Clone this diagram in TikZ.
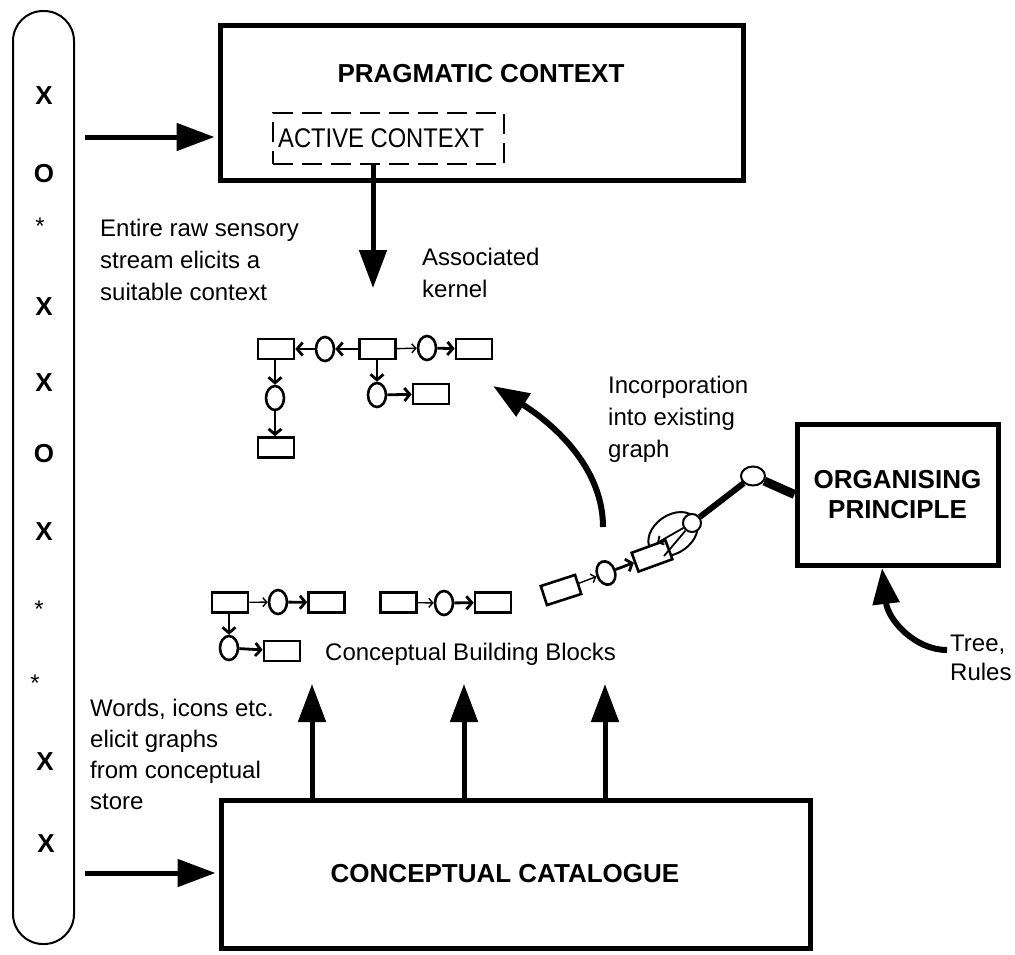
\documentclass[tikz,border=0pt]{standalone}
\usepackage{fontspec}
\setmainfont{Liberation Sans}
\usetikzlibrary{arrows.meta,shapes.geometric,calc}
\begin{document}
\begin{tikzpicture}[x=1pt,y=-1pt,
  bigbox/.style={draw, line width=5pt, inner sep=0pt},
  bigarrow/.style={line width=5pt, -{Triangle[length=38pt,width=27pt]}},
  curvearrow/.style={line width=6pt, -{Triangle[length=36pt,width=26pt]}},
  cbox/.style={draw, line width=2.6pt, fill=white, minimum width=36pt, minimum height=20pt, inner sep=0pt},
  cell/.style={draw, ellipse, line width=2.6pt, fill=white, minimum width=18pt, minimum height=24pt, inner sep=0pt},
  link/.style={line width=2.8pt, -{Straight Barb[length=5.5pt,width=13pt]}},
  thinlink/.style={line width=1.4pt, -{Straight Barb[length=4pt,width=9pt]}},
  txt/.style={font=\fontsize{24}{32}\selectfont, inner sep=0pt, align=left},
  title/.style={font=\fontsize{26}{30}\selectfont\bfseries, inner sep=0pt, align=center},
  sym/.style={font=\fontsize{26}{26}\selectfont\bfseries, inner sep=0pt, anchor=base},
  star/.style={font=\fontsize{24}{24}\selectfont, inner sep=0pt, anchor=base},
]
\useasboundingbox (0,0) rectangle (1015,954);

% ---- incoming symbol stream ----
\node[draw, line width=2pt, rounded corners=30pt, minimum width=61pt, minimum height=933pt, inner sep=0pt] (stream) at (43.5,477.5) {};
\node[sym]  (s1)  at (44,104.5) {X};
\node[sym]  (s2)  at (44,182)   {O};
\node[star] (s3)  at (40,234)   {*};
\node[sym]  (s4)  at (44,315)   {X};
\node[sym]  (s5)  at (44,391)   {X};
\node[sym]  (s6)  at (44,462)   {O};
\node[sym]  (s7)  at (44,540)   {X};
\node[star] (s8)  at (39,617)   {*};
\node[star] (s9)  at (35,691)   {*};
\node[sym]  (s10) at (45,770)   {X};
\node[sym]  (s11) at (46,852)   {X};

% ---- pragmatic context ----
\node[bigbox, minimum width=523pt, minimum height=155pt] (prag) at (481.5,102.5) {};
\node[title] (pragtitle) at (481,74) {PRAGMATIC CONTEXT};
\node[draw, line width=1.8pt, dash pattern=on 20pt off 9pt, minimum width=231pt, minimum height=51pt, inner sep=0pt] (active) at (388.5,138.5) {};
\node[inner sep=0pt, anchor=base west, font=\fontsize{27}{27}\selectfont] (activetext) at (278,147.5) {\scalebox{0.88}[1]{ACTIVE CONTEXT}};

\coordinate (in1) at (85,137);
\draw[bigarrow] (in1) -- ($(in1 -| prag.west)+(-3,0)$);

\coordinate (kernelin) at (373,288);
\draw[bigarrow] (active.south -| kernelin) -- (kernelin);

\node[txt, anchor=north west] (entire) at (100,218.5) {Entire raw sensory\\stream elicits a\\suitable context};
\node[txt, anchor=north west] (assoc) at (422,247.5) {Associated\\kernel};

% ---- associated kernel graph ----
\node[cbox] (k1) at (276,349) {};
\node[cell] (k2) at (325,349) {};
\node[cbox] (k3) at (377.5,349) {};
\node[cell] (k4) at (427,348) {};
\node[cbox] (k5) at (474,349) {};
\node[cell] (k6) at (275,398) {};
\node[cbox] (k7) at (276,447.5) {};
\node[cell] (k8) at (377,395) {};
\node[cbox] (k9) at (431,394) {};
\draw[link] (k3) -- (k2);
\draw[link] (k2) -- (k1);
\draw[thinlink] (k3) -- (k4);
\draw[link] (k4) -- (k5);
\draw[link] (k1.south -| k6) -- (k6);
\draw[link] (k6) -- (k7.north -| k6);
\draw[link] (k3.south -| k8) -- (k8);
\draw[link] (k8) -- (k9);

% ---- conceptual building blocks ----
\node[cbox] (a1) at (230,602.5) {};
\node[cell] (a2) at (278,602) {};
\node[cbox] (a3) at (326.5,602.5) {};
\node[cell] (a4) at (229,648) {};
\node[cbox] (a5) at (282,651) {};
\draw[thinlink] (a1) -- (a2);
\draw[link] (a2) -- (a3);
\draw[link] (a1.south -| a4) -- (a4);
\draw[link] (a4) -- (a5);

\node[cbox] (b1) at (398.5,602.5) {};
\node[cell] (b2) at (444,603) {};
\node[cbox] (b3) at (493,602.5) {};
\draw[thinlink] (b1) -- (b2);
\draw[link] (b2) -- (b3);

\node[txt, anchor=base west] (cbb) at (325,660) {Conceptual Building Blocks};

% ---- block being picked up by the organising principle ----
\node[draw, ellipse, line width=2pt, rotate=35, minimum width=54pt, minimum height=38pt, inner sep=0pt] (grip) at (673,534) {};
\node[cbox, rotate=18] (c1) at (561,590) {};
\node[cell, rotate=20] (c2) at (606,573) {};
\node[cbox, rotate=20] (c3) at (652,556) {};
\draw[thinlink] (c1) -- (c2);
\draw[link] (c2) -- (c3);
\node[draw, circle, fill=white, line width=2pt, minimum size=18pt, inner sep=0pt] (ring) at (692,523) {};
\node[draw, ellipse, fill=white, line width=2pt, minimum width=24pt, minimum height=19pt, inner sep=0pt] (joint) at (753,476) {};
\coordinate (g1) at (657,543);
\coordinate (g2) at (664,556);
\draw[line width=1.8pt, -{Straight Barb[length=4.5pt,width=10pt]}] (ring) -- (g1);
\draw[line width=1.8pt] (ring) -- (g2);

% ---- organising principle ----
\node[bigbox, title, minimum width=201pt, minimum height=141pt] (org) at (897.5,494.5) {ORGANISING\\PRINCIPLE};
\draw[line width=6pt] (ring) -- (joint);
\draw[line width=9pt] (joint) -- (org.west);

\coordinate (treefrom) at (947,650);
\coordinate (treeto) at (882,568);
\draw[curvearrow] (treefrom) .. controls (915,650) and (888,620) .. (treeto);
\node[txt, anchor=north west, font=\fontsize{24}{29}\selectfont] (tree) at (950,635) {Tree,\\Rules};

% ---- incorporation ----
\coordinate (incfrom) at (603,527);
\coordinate (incto) at (493,386);
\draw[curvearrow] (incfrom) .. controls (603,460) and (541,416) .. (incto);
\node[txt, anchor=north west] (incorp) at (608,375.5) {Incorporation\\into existing\\graph};

% ---- conceptual catalogue ----
\node[bigbox, minimum width=589pt, minimum height=148pt] (cat) at (515.5,874) {};
\node[title] (cattitle) at (505,874) {CONCEPTUAL CATALOGUE};
\coordinate (up1) at (312,684);
\coordinate (up2) at (464,684);
\coordinate (up3) at (605,684);
\draw[bigarrow] (cat.north -| up1) -- (up1);
\draw[bigarrow] (cat.north -| up2) -- (up2);
\draw[bigarrow] (cat.north -| up3) -- (up3);

\coordinate (in2) at (85,873);
\draw[bigarrow] (in2) -- ($(in2 -| cat.west)+(-3,0)$);

\node[txt, anchor=north west, font=\fontsize{24}{31}\selectfont] (words) at (90,698.5) {Words, icons etc.\\elicit graphs\\from conceptual\\store};
\end{tikzpicture}
\end{document}
